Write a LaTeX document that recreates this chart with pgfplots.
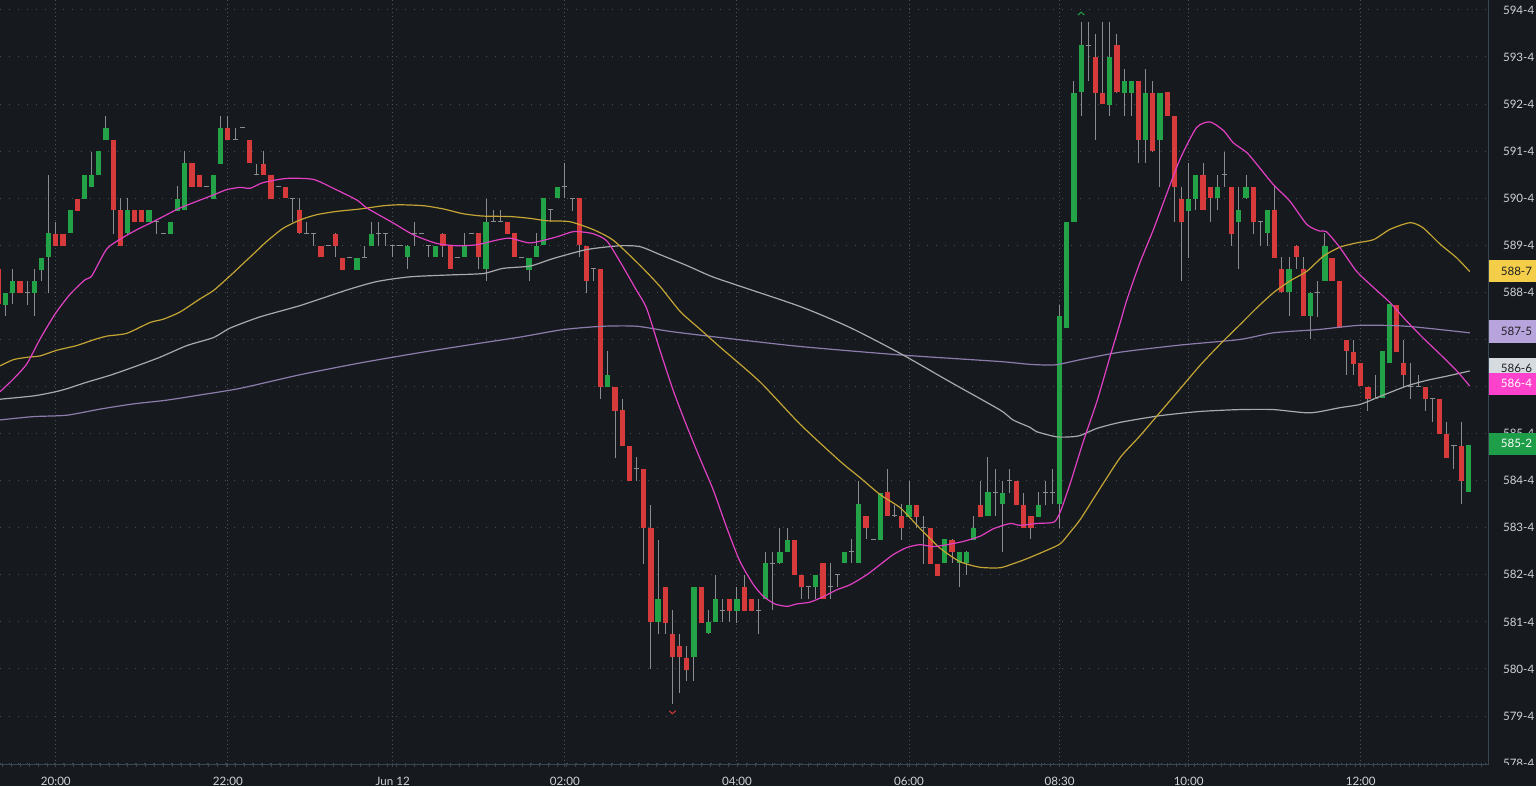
\documentclass[border=0pt]{standalone}
\usepackage{pgfplots}
\pgfplotsset{compat=1.18}
\usepackage{pgfplotstable}
\usepackage{fontspec}
\setmainfont{Lato}
\definecolor{bg}{RGB}{22,26,30}
\definecolor{upc}{RGB}{34,163,72}
\definecolor{dnc}{RGB}{214,58,58}
\definecolor{wick}{RGB}{138,140,143}
\definecolor{pinkma}{RGB}{226,64,196}
\definecolor{yellowma}{RGB}{196,164,52}
\definecolor{grayma}{RGB}{168,170,174}
\definecolor{purplema}{RGB}{140,124,172}
\definecolor{axiscol}{RGB}{58,70,80}
\definecolor{gridcol}{RGB}{74,80,86}
\definecolor{txt}{RGB}{208,211,215}
\definecolor{labyellow}{RGB}{244,206,72}
\definecolor{labpurple}{RGB}{184,164,220}
\definecolor{labgray}{RGB}{214,219,224}
\definecolor{labpink}{RGB}{255,66,204}
\definecolor{labgreen}{RGB}{30,158,72}
\definecolor{labdark}{RGB}{30,30,34}

\pgfdeclareplotmark{caretup}{%
  \pgfpathmoveto{\pgfqpoint{-\pgfplotmarksize}{-0.45\pgfplotmarksize}}%
  \pgfpathlineto{\pgfqpoint{0pt}{0.45\pgfplotmarksize}}%
  \pgfpathlineto{\pgfqpoint{\pgfplotmarksize}{-0.45\pgfplotmarksize}}%
  \pgfusepathqstroke}
\pgfdeclareplotmark{caretdown}{%
  \pgfpathmoveto{\pgfqpoint{-\pgfplotmarksize}{0.45\pgfplotmarksize}}%
  \pgfpathlineto{\pgfqpoint{0pt}{-0.45\pgfplotmarksize}}%
  \pgfpathlineto{\pgfqpoint{\pgfplotmarksize}{0.45\pgfplotmarksize}}%
  \pgfusepathqstroke}

% 5-minute candles, index 0 = 20:00
\pgfplotstableread{
i o h l c
-8 589.0 589.0 588.25 588.25
-7 588.25 588.5 588.0 588.5
-6 588.5 589.0 588.25 588.75
-5 588.75 588.75 588.5 588.5
-4 588.5 588.75 588.25 588.5
-3 588.5 589.0 588.0 588.75
-2 589.0 589.25 588.75 589.25
-1 589.25 591.0 588.5 589.75
0 589.75 590.0 589.5 589.5
1 589.75 589.75 589.5 589.5
2 589.75 590.25 589.75 590.25
3 590.5 590.5 590.25 590.25
4 590.5 591.0 590.5 591.0
5 590.75 591.5 590.75 591.0
6 591.0 591.5 591.0 591.5
7 591.75 592.25 591.75 592.0
8 591.75 591.75 589.75 590.25
9 590.25 590.5 589.5 589.5
10 589.75 590.5 589.75 590.25
11 590.25 590.25 590.0 590.0
12 590.25 590.25 590.0 590.0
13 590.0 590.25 590.0 590.25
14 590.0 590.0 589.75 590.0
15 589.75 589.75 589.75 589.75
16 589.75 590.0 589.75 590.0
17 590.25 590.75 590.25 590.5
18 590.25 591.5 590.25 591.25
19 591.25 591.25 590.75 590.75
20 591.0 591.0 590.75 590.75
21 590.75 590.75 590.75 590.75
22 590.5 591.0 590.5 591.0
23 591.25 592.25 591.25 592.0
24 592.0 592.25 591.75 591.75
25 591.75 592.0 591.75 591.75
26 592.0 592.0 592.0 592.0
27 591.75 591.75 591.25 591.25
28 591.0 591.25 591.0 591.0
29 591.25 591.5 591.0 591.0
30 591.0 591.0 590.5 590.5
31 590.75 590.75 590.75 590.75
32 590.75 590.75 590.5 590.5
33 590.5 590.5 590.0 590.5
34 590.25 590.5 589.75 589.75
35 589.75 590.0 589.75 589.75
36 589.75 589.75 589.5 589.75
37 589.5 589.5 589.25 589.25
38 589.5 589.5 589.5 589.5
39 589.75 589.75 589.25 589.5
40 589.25 589.25 589.0 589.0
41 589.25 589.25 589.25 589.25
42 589.0 589.25 589.0 589.25
43 589.25 589.5 589.25 589.25
44 589.5 590.0 589.5 589.75
45 589.75 590.0 589.5 589.75
46 589.75 589.75 589.5 589.75
47 589.5 589.5 589.25 589.5
48 589.5 589.5 589.5 589.5
49 589.25 589.5 589.0 589.5
50 589.75 590.0 589.5 589.75
51 589.75 589.75 589.75 589.75
52 589.5 589.5 589.25 589.5
53 589.25 589.5 589.25 589.5
54 589.75 589.75 589.25 589.5
55 589.5 589.5 589.0 589.0
56 589.25 589.25 589.25 589.25
57 589.25 589.75 589.25 589.5
58 589.75 589.75 589.75 589.75
59 589.75 589.75 589.0 589.25
60 589.0 590.5 588.75 590.0
61 590.0 590.25 590.0 590.0
62 590.0 590.25 590.0 590.0
63 590.0 590.0 589.75 589.75
64 589.75 589.75 589.25 589.25
65 589.25 589.25 589.25 589.25
66 589.0 589.25 588.75 589.25
67 589.25 589.75 589.25 589.5
68 589.5 590.5 589.5 590.5
69 590.25 590.25 590.0 590.25
70 590.5 590.75 590.5 590.75
71 590.75 591.25 590.5 590.75
72 590.5 590.5 590.25 590.5
73 590.5 590.5 589.25 589.5
74 589.5 589.5 588.5 588.75
75 589.0 589.0 588.75 589.0
76 589.0 589.0 586.25 586.5
77 586.5 587.25 586.5 586.75
78 586.5 586.5 585.0 586.0
79 586.0 586.25 585.25 585.25
80 585.25 585.25 584.5 584.5
81 584.75 585.0 584.5 584.75
82 584.75 584.75 582.75 583.5
83 583.5 584.0 580.5 581.5
84 581.5 583.25 581.25 582.0
85 582.25 582.25 581.25 581.5
86 581.25 581.75 579.75 580.75
87 581.0 581.25 580.0 580.75
88 580.75 581.0 580.25 580.5
89 580.75 582.25 580.25 582.25
90 582.25 582.25 581.5 581.5
91 581.25 581.75 581.25 581.5
92 581.5 582.5 581.5 582.0
93 581.75 582.0 581.5 581.75
94 582.0 582.0 581.5 581.75
95 581.75 582.25 581.5 582.0
96 582.25 582.5 581.75 581.75
97 582.0 582.0 581.75 581.75
98 581.75 582.0 581.25 581.75
99 582.0 583.0 582.0 582.75
100 582.75 583.0 581.75 582.75
101 582.75 583.5 582.75 583.0
102 583.0 583.5 583.0 583.25
103 583.25 583.25 582.5 582.5
104 582.5 582.5 582.0 582.25
105 582.25 582.25 582.0 582.25
106 582.25 582.5 582.0 582.5
107 582.75 582.75 582.0 582.0
108 582.25 582.75 582.0 582.25
109 582.5 582.5 582.25 582.5
110 582.75 583.0 582.75 583.0
111 583.0 583.25 582.75 583.0
112 582.75 584.5 582.75 584.0
113 583.75 583.75 583.25 583.5
114 583.25 583.25 583.25 583.25
115 583.25 584.25 583.25 584.25
116 584.25 584.75 583.75 583.75
117 583.75 584.0 583.75 583.75
118 583.75 584.0 583.25 583.5
119 583.75 584.5 583.75 584.0
120 584.0 584.0 583.5 583.75
121 583.5 583.75 582.75 583.5
122 583.5 583.5 582.75 582.75
123 582.75 582.75 582.5 582.5
124 582.75 583.25 582.75 583.25
125 583.25 583.25 582.75 583.0
126 582.75 583.0 582.25 583.0
127 582.75 583.0 582.5 583.0
128 583.25 583.75 583.25 583.5
129 584.0 584.5 583.75 583.75
130 583.75 585.0 583.75 584.25
131 584.25 584.75 583.75 584.25
132 584.0 584.5 583.0 584.25
133 584.5 584.75 584.25 584.5
134 584.5 584.5 584.0 584.0
135 584.0 584.25 583.5 583.5
136 583.75 583.75 583.25 583.5
137 583.75 584.25 583.75 584.0
138 584.25 584.5 584.0 584.25
139 584.25 584.75 584.0 584.25
140 584.0 588.25 583.5 588.0
141 587.75 590.0 587.75 590.0
142 590.0 593.0 590.0 592.75
143 592.75 594.25 592.25 593.75
144 593.75 594.25 593.0 593.75
145 593.5 594.0 591.75 592.75
146 592.75 594.25 592.5 592.5
147 592.5 594.25 592.25 593.5
148 593.75 594.0 592.75 592.75
149 592.75 593.25 592.25 593.0
150 592.75 593.0 592.25 593.0
151 593.0 593.0 591.25 591.75
152 591.75 593.25 591.25 592.75
153 592.75 593.0 591.5 591.5
154 591.75 592.75 590.75 592.75
155 592.75 592.75 592.25 592.25
156 592.25 592.25 590.0 590.75
157 590.5 590.75 588.75 590.0
158 590.25 591.25 589.25 590.5
159 590.5 591.0 590.25 591.0
160 591.0 591.25 590.25 590.25
161 590.75 590.75 590.0 590.5
162 590.5 591.0 590.25 590.75
163 591.0 591.5 590.75 591.0
164 590.75 590.75 589.5 589.75
165 590.0 590.75 589.0 590.25
166 590.5 591.0 590.5 590.75
167 590.75 590.75 589.75 590.0
168 590.0 590.0 589.5 590.0
169 589.75 590.25 589.5 590.25
170 590.25 590.75 589.25 589.25
171 589.0 589.25 588.5 588.5
172 588.5 589.25 588.0 589.0
173 589.5 589.5 589.0 589.25
174 589.0 589.25 588.0 588.0
175 588.0 588.5 587.5 588.5
176 588.5 588.75 588.0 588.5
177 588.75 589.75 588.75 589.5
178 589.25 589.25 588.75 588.75
179 588.75 588.75 587.75 587.75
180 587.5 587.5 586.75 587.25
181 587.25 587.5 586.75 587.0
182 587.0 587.0 586.5 586.5
183 586.5 586.5 586.0 586.25
184 586.25 586.75 586.25 586.25
185 586.25 587.25 586.25 587.25
186 587.0 588.25 587.0 588.25
187 588.25 588.25 587.25 587.25
188 587.0 587.5 586.5 586.75
189 586.5 587.0 586.25 586.5
190 586.5 586.75 586.5 586.5
191 586.5 586.5 586.0 586.25
192 586.25 586.25 585.75 586.25
193 586.25 586.25 585.5 585.5
194 585.5 585.75 585.0 585.0
195 585.25 585.25 584.75 585.25
196 585.25 585.75 584.0 584.5
197 584.25 585.25 584.25 585.25
}\candles

\newcommand\vlab[5]{%
  \fill[#1] (1116.4,#3) rectangle (1152,#3-#5);
  \node[anchor=west, inner sep=0pt, text=#2, font=\fontsize{8.7}{10}\selectfont] at (1125.4,#3-0.5*#5) {#4};}

\begin{document}
\begin{tikzpicture}[x=1pt,y=1pt]
\fill[bg] (0,0) rectangle (1152,589.5);
\useasboundingbox (0,0) rectangle (1152,589.5);
\begin{axis}[
  at={(0pt,15.75pt)}, anchor=south west,
  width=1116pt, height=573.75pt, scale only axis,
  xmin=-7.77, xmax=199.76, ymin=578.46, ymax=594.71,
  enlargelimits=false,
  axis x line*=bottom, axis y line*=right,
  axis line style={-, draw=axiscol, line width=0.75pt},
  xtick={0,24,47,71,95,119,140,158,182},
  xticklabels={20:00,22:00,Jun 12,02:00,04:00,06:00,08:30,10:00,12:00},
  minor xtick={-7.5,-6.25,...,199.5},
  ytick={578.5,579.5,...,594.5},
  yticklabels={578-4,579-4,580-4,581-4,582-4,583-4,584-4,585-4,{},{},588-4,589-4,590-4,591-4,592-4,593-4,594-4},
  tick align=center,
  major tick length=3pt, minor tick length=2.5pt,
  xtick style={draw=axiscol, line width=0.6pt},
  minor x tick style={draw=axiscol, line width=0.5pt},
  ytick style={draw=none},
  grid=major,
  x grid style={draw=gridcol, line width=0.75pt, dash pattern=on 0.75pt off 2.25pt},
  y grid style={draw=gridcol, line width=0.75pt, dash pattern=on 0.75pt off 6pt},
  ticklabel style={font=\fontsize{8.7}{10}\selectfont, text=txt},
  xticklabel style={anchor=north, inner sep=0pt, yshift=-7pt},
  yticklabel style={anchor=west, inner sep=0pt, xshift=9.5pt},
]
% wicks
\addplot[draw=none, mark=none, forget plot,
  error bars/.cd, y dir=both, y explicit, error mark=none,
  error bar style={draw=wick, line width=0.75pt}]
  table[x=i, y expr={(\thisrow{h}+\thisrow{l})/2}, y error expr={(\thisrow{h}-\thisrow{l})/2}] {\candles};
% up bodies
\addplot[draw=none, mark=none, forget plot,
  error bars/.cd, y dir=both, y explicit, error mark=none,
  error bar style={draw=upc, line width=3.9pt}]
  table[x expr={\thisrow{c}>\thisrow{o} ? \thisrow{i} : -1000},
        y expr={(\thisrow{o}+\thisrow{c})/2},
        y error expr={abs(\thisrow{c}-\thisrow{o})/2}] {\candles};
% down bodies
\addplot[draw=none, mark=none, forget plot,
  error bars/.cd, y dir=both, y explicit, error mark=none,
  error bar style={draw=dnc, line width=3.9pt}]
  table[x expr={\thisrow{c}<\thisrow{o} ? \thisrow{i} : -1000},
        y expr={(\thisrow{o}+\thisrow{c})/2},
        y error expr={abs(\thisrow{c}-\thisrow{o})/2}] {\candles};
% doji
\addplot[only marks, mark=-, mark size=1.9pt, mark options={draw=wick, line width=0.75pt}, forget plot]
  table[x expr={\thisrow{c}==\thisrow{o} ? \thisrow{i} : -1000}, y=o] {\candles};

% moving averages
\addplot[purplema, line width=0.9pt, smooth, tension=0.4, mark=none] coordinates {
(-7.77,585.79) (-3.12,585.86) (1.53,585.89) (6.18,586.02) (10.82,586.13) (15.48,586.21) (20.12,586.32) (25.7,586.46) (34.07,586.75) (42.44,587.0) (50.81,587.22) (59.18,587.42) (64.76,587.55) (70.8,587.71) (76.37,587.78) (81.03,587.78) (85.68,587.67) (92.7,587.54) (103.8,587.35) (117.8,587.17) (131.7,587.03) (135.9,586.97) (139.4,586.96) (142.9,587.07) (148.5,587.23) (156.8,587.38) (165.2,587.5) (169.8,587.64) (176.1,587.71) (181.9,587.8) (188.4,587.78) (197.2,587.64)};
\addplot[grayma, line width=0.9pt, smooth, tension=0.4, mark=none] coordinates {
(-7.77,586.23) (-3.1,586.3) (-0.3,586.38) (1.5,586.45) (4.3,586.59) (7.6,586.74) (10.8,586.91) (14.5,587.12) (18.3,587.37) (22.0,587.54) (24.3,587.74) (28.5,587.98) (34.1,588.22) (40.6,588.55) (44.8,588.73) (49.4,588.83) (55.0,588.87) (59.6,588.9) (62.4,589.01) (66.2,589.06) (69.4,589.22) (74.1,589.41) (78.7,589.49) (81.5,589.47) (84.3,589.3) (88.0,589.07) (90.8,588.88) (92.7,588.77) (103.8,588.2) (110.8,587.75) (117.8,587.2) (124.7,586.6) (131.7,586.0) (133.5,585.79) (135.9,585.63) (136.8,585.54) (139.6,585.43) (141.5,585.43) (142.9,585.46) (145.2,585.61) (148.5,585.74) (154.0,585.88) (159.6,585.97) (165.2,586.01) (169.8,586.01) (174.9,585.94) (179.1,586.05) (181.9,586.12) (184.7,586.29) (188.4,586.51) (191.2,586.63) (194.0,586.72) (197.2,586.83)};
\addplot[yellowma, line width=0.9pt, smooth, tension=0.4, mark=none] coordinates {
(-7.77,586.94) (-5.91,587.07) (-4.04,587.12) (-2.19,587.15) (0.14,587.27) (2.93,587.37) (5.24,587.49) (7.11,587.57) (9.9,587.63) (13.15,587.86) (15.0,587.93) (17.3,588.08) (20.1,588.36) (22.0,588.54) (24.3,588.85) (25.7,589.05) (27.1,589.25) (28.5,589.45) (29.4,589.58) (31.7,589.86) (34.1,590.04) (36.4,590.15) (39.2,590.22) (42.4,590.27) (45.7,590.34) (48.0,590.36) (51.3,590.34) (54.1,590.27) (56.8,590.17) (59.6,590.12) (63.4,590.11) (66.2,590.07) (68.5,590.02) (71.7,590.0) (75.0,589.83) (77.8,589.6) (81.5,589.07) (84.3,588.62) (87.1,588.09) (89.9,587.71) (92.7,587.33) (98.2,586.6) (103.8,585.7) (109.4,584.91) (112.2,584.56) (115.0,584.2) (117.8,583.92) (120.5,583.49) (123.3,583.07) (126.1,582.78) (128.9,582.66) (131.7,582.65) (133.6,582.74) (135.4,582.84) (138.2,583.02) (140.1,583.16) (141.5,583.41) (142.9,583.68) (145.7,584.35) (148.5,585.0) (151.2,585.45) (154.0,585.95) (156.8,586.45) (159.6,586.95) (162.4,587.4) (165.2,587.82) (167.5,588.17) (169.8,588.49) (172.1,588.74) (174.5,588.95) (176.8,589.27) (179.1,589.46) (181.4,589.55) (183.8,589.62) (186.1,589.84) (188.9,589.98) (190.7,589.87) (193.1,589.52) (195.4,589.23) (197.2,588.94)};
\addplot[pinkma, line width=0.9pt, smooth, tension=0.4, mark=none] coordinates {
(-7.77,586.39) (-5.91,586.66) (-4.04,586.98) (-2.19,587.51) (-0.1,588.04) (1.99,588.46) (4.09,588.77) (5.02,588.85) (7.1,589.42) (9.2,589.65) (11.3,589.83) (14.1,590.04) (17.3,590.29) (22.0,590.57) (23.8,590.68) (25.7,590.73) (27.1,590.71) (28.9,590.83) (32.2,590.92) (35.9,590.9) (38.7,590.71) (42.0,590.46) (43.4,590.29) (47.1,589.97) (49.9,589.72) (53.1,589.54) (55.9,589.49) (58.7,589.51) (61.5,589.61) (63.4,589.65) (66.2,589.55) (69.9,589.68) (72.2,589.79) (74.8,589.75) (76.8,589.6) (78.7,589.15) (81.0,588.54) (82.4,588.16) (84.3,587.25) (86.1,586.42) (88.0,585.66) (89.9,584.95) (91.7,584.3) (93.6,583.49) (95.4,582.79) (97.3,582.29) (98.7,582.04) (100.3,581.88) (102.0,581.83) (103.3,581.88) (105.2,581.92) (107.1,582.04) (108.9,582.18) (110.8,582.29) (113.1,582.5) (115.0,582.72) (116.8,582.93) (118.7,583.08) (120.5,583.14) (122.4,583.1) (124.3,583.14) (126.6,583.21) (128.9,583.32) (130.8,583.48) (133.1,583.59) (134.5,583.55) (136.8,583.59) (139.2,583.62) (140.1,583.84) (141.5,584.45) (143.3,585.33) (145.2,586.18) (147.1,587.17) (148.5,587.88) (149.4,588.35) (151.2,589.13) (153.1,589.84) (155.0,590.62) (156.8,591.33) (159.1,592.0) (161.0,592.12) (162.9,591.93) (164.2,591.68) (166.1,591.47) (167.5,591.22) (169.8,590.79) (172.1,590.44) (174.5,589.94) (176.3,589.8) (177.2,589.79) (179.1,589.45) (181.4,588.95) (183.8,588.6) (186.1,588.28) (188.4,587.89) (190.7,587.53) (193.1,587.18) (195.4,586.83) (197.2,586.51)};

% session high / low markers
\addplot[only marks, mark=caretup, mark size=2.4pt, mark options={draw=upc, line width=0.75pt}] coordinates {(143,594.42)};
\addplot[only marks, mark=caretdown, mark size=2.4pt, mark options={draw=dnc, line width=0.75pt}] coordinates {(86,579.58)};
\end{axis}
% hide lower half of the clipped bottom price label
\fill[bg] (1116.4,0) rectangle (1152,15.6);
% last-value labels
\vlab{labyellow}{labdark}{394.5}{588-7}{16.5}
\vlab{labpurple}{labdark}{349.5}{587-5}{17.25}
\vlab{labgray}{labdark}{321}{586-6}{15.75}
\vlab{labpink}{white}{310.1}{586-4}{16.5}
\vlab{labgreen}{white}{265.1}{585-2}{16.5}
\end{tikzpicture}
\end{document}
